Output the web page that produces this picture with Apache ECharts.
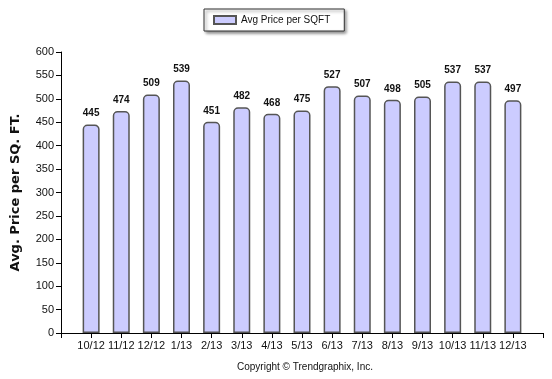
<!DOCTYPE html>
<html><head><meta charset="utf-8">
<script src="https://cdn.jsdelivr.net/npm/echarts@6/dist/echarts.min.js"></script>
<style>html,body{margin:0;padding:0;background:#fff}#c{width:552px;height:379px}</style>
</head><body><div id="c"></div>
<script>
var categories = ['10/12','11/12','12/12','1/13','2/13','3/13','4/13','5/13','6/13','7/13','8/13','9/13','10/13','11/13','12/13'];
var values = [445,474,509,539,451,482,468,475,527,507,498,505,537,537,497];
var seriesName = 'Avg Price per SQFT';
var yTitle = 'Avg. Price per SQ. FT.';
var copyright = 'Copyright \u00A9 Trendgraphix, Inc.';

var axisCats = [''].concat(categories).concat(['']);
var barData = [null].concat(values).concat([null]);
var font = 'Liberation Sans, Arial, sans-serif';
var chart = echarts.init(document.getElementById('c'));
chart.setOption({
  animation:false,
  legend:{
    top:9, left:204, data:[seriesName],
    backgroundColor:'#fff', borderColor:'#333', borderWidth:1,
    padding:[6,14,6,9], itemWidth:22, itemHeight:8, itemGap:5,
    shadowColor:'rgba(0,0,0,0.45)', shadowBlur:3, shadowOffsetX:2, shadowOffsetY:2,
    textStyle:{fontFamily:font,fontSize:10,color:'#111'},
    icon:'rect'
  },
  title:{text:copyright, left:300, top:357, textAlign:'center',
    textStyle:{fontFamily:font,fontSize:10,fontWeight:'normal',color:'#111'}},
  grid:{left:61,right:9,top:52,bottom:46,containLabel:false},
  xAxis:{type:'category',data:axisCats,boundaryGap:false,
    axisLine:{lineStyle:{color:'#000',width:1}},
    axisTick:{show:true,length:5,lineStyle:{color:'#000'}},
    axisLabel:{fontFamily:font,fontSize:11,color:'#111',interval:0,margin:7},
    splitLine:{show:false}},
  yAxis:{type:'value',min:0,max:600,interval:50,
    name:yTitle,nameLocation:'middle',nameGap:39,nameRotate:90,
    nameTextStyle:{fontFamily:'DejaVu Sans, sans-serif',fontSize:13,fontWeight:'bold',color:'#111'},
    axisLine:{show:true,lineStyle:{color:'#000',width:1}},
    axisTick:{show:true,length:5,lineStyle:{color:'#000'}},
    axisLabel:{fontFamily:font,fontSize:11,color:'#111',margin:7},
    splitLine:{show:false}},
  series:[{
    name:seriesName,type:'bar',data:barData,barWidth:17,
    itemStyle:{color:'#ccccff',borderColor:'#555',borderWidth:1.5,borderRadius:[4,4,0,0]},
    label:{show:true,position:'top',distance:6,fontFamily:font,fontSize:10,fontWeight:'bold',color:'#111'}
  }]
});
</script></body></html>
